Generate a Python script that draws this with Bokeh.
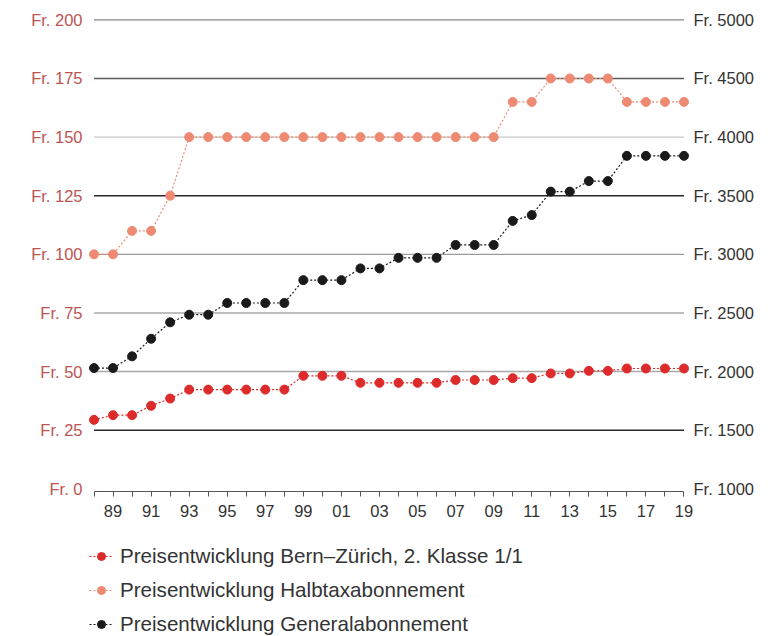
from bokeh.plotting import figure
from bokeh.models import (Range1d, LinearAxis, FixedTicker, Legend, LegendItem,
                          ColumnDataSource)
from bokeh.embed import file_html
from bokeh.resources import INLINE

# --- data -------------------------------------------------------------------
years = [1988, 1989, 1990, 1991, 1992, 1993, 1994, 1995, 1996, 1997, 1998,
         1999, 2000, 2001, 2002, 2003, 2004, 2005, 2006, 2007, 2008, 2009,
         2010, 2011, 2012, 2013, 2014, 2015, 2016, 2017, 2018, 2019]

# Bern–Zürich, 2nd class single ticket (left axis, CHF)
bern_zuerich = [29.4, 31.4, 31.4, 35.4, 38.5, 42.3, 42.3, 42.3, 42.3, 42.3, 42.3,
                48.2, 48.2, 48.2, 45.2, 45.2, 45.2, 45.2, 45.2, 46.4, 46.4, 46.4,
                47.2, 47.2, 49.2, 49.2, 50.3, 50.3, 51.3, 51.3, 51.3, 51.3]

# Half-fare card (left axis, CHF)
halbtax = [100, 100, 110, 110, 125, 150, 150, 150, 150, 150, 150,
           150, 150, 150, 150, 150, 150, 150, 150, 150, 150, 150,
           165, 165, 175, 175, 175, 175, 165, 165, 165, 165]

# General travel pass (right axis, CHF)
generalabo = [2030, 2030, 2130, 2280, 2420, 2485, 2485, 2585, 2585, 2585, 2585,
              2780, 2780, 2780, 2880, 2880, 2970, 2970, 2970, 3080, 3080, 3080,
              3285, 3335, 3535, 3535, 3625, 3625, 3840, 3840, 3840, 3840]

left_ticks = [0, 25, 50, 75, 100, 125, 150, 175, 200]
right_ticks = [1000, 1500, 2000, 2500, 3000, 3500, 4000, 4500, 5000]
year_labels = {y: (f"{y % 100:02d}" if y % 2 == 1 else "") for y in years}

legend_labels = ["Preisentwicklung Bern–Zürich, 2. Klasse 1/1",
                 "Preisentwicklung Halbtaxabonnement",
                 "Preisentwicklung Generalabonnement"]

# --- styles -----------------------------------------------------------------
FONT = "Liberation Sans"
RED = "#dd2a2a"
SALMON = "#ee8a72"
BLACK = "#1a1a1a"
LEFT_LABEL = "#bb5552"
grid_colors = ["#2a2a2a", "#a8a8a8", "#a8a8a8", "#9a9a9a", "#2a2a2a",
               "#c8c8c8", "#5a5a5a", "#858585"]   # for 25 .. 200

# The frame reaches down to the page bottom so the legend can sit inside it;
# the x axis is pinned just below zero.
p = figure(frame_width=609, frame_height=626,
           x_range=Range1d(1987.5, 2019.5), y_range=Range1d(-63, 204),
           output_backend="svg", toolbar_location=None,
           min_border_left=84, min_border_right=81, min_border_top=10,
           min_border_bottom=0, background_fill_color="white",
           border_fill_color="white", outline_line_color=None,
           x_axis_location=None, y_axis_location=None)
p.xgrid.visible = False
p.ygrid.visible = False

p.extra_y_ranges = {"ga": Range1d(1000 + (-63) * 20, 1000 + 204 * 20)}

# horizontal rules at the left-axis ticks (except zero)
grid_vals = left_ticks[1:]
grid_src = ColumnDataSource(dict(x0=[years[0]] * len(grid_vals),
                                 x1=[years[-1]] * len(grid_vals),
                                 y=grid_vals, c=grid_colors))
p.segment(x0="x0", x1="x1", y0="y", y1="y", color="c", line_width=1.4,
          source=grid_src)

# axes
xaxis = LinearAxis(ticker=FixedTicker(ticks=years), bounds=(years[0], years[-1]),
                   major_label_overrides=year_labels, fixed_location=-1)
xaxis.axis_line_color = "#555555"
xaxis.major_tick_line_color = "#555555"
xaxis.major_tick_out = 5
xaxis.major_tick_in = 0
xaxis.minor_tick_line_color = None
xaxis.major_label_standoff = 9
xaxis.major_label_text_font = FONT
xaxis.major_label_text_font_size = "16.5px"
xaxis.major_label_text_color = "#333333"
p.add_layout(xaxis, "below")

laxis = LinearAxis(ticker=FixedTicker(ticks=left_ticks),
                   major_label_overrides={t: f"Fr. {t}" for t in left_ticks})
raxis = LinearAxis(y_range_name="ga", ticker=FixedTicker(ticks=right_ticks),
                   major_label_overrides={t: f"Fr. {t}" for t in right_ticks})
for ax, col, sd in ((laxis, LEFT_LABEL, 2), (raxis, "#333333", 0)):
    ax.axis_line_color = None
    ax.major_tick_line_color = None
    ax.minor_tick_line_color = None
    ax.major_tick_out = 0
    ax.major_tick_in = 0
    ax.major_label_standoff = sd
    ax.major_label_text_font = FONT
    ax.major_label_text_font_size = "16.5px"
    ax.major_label_text_color = col
p.add_layout(laxis, "left")
p.add_layout(raxis, "right")

# series
series = [(halbtax, SALMON, "default"), (generalabo, BLACK, "ga"),
          (bern_zuerich, RED, "default")]
rend = {}
for vals, col, rng in series:
    ln = p.line(years, vals, line_color=col, line_dash="2 2", line_width=1.2,
                y_range_name=rng)
    sc = p.scatter(years, vals, size=9, fill_color=col, line_color=col,
                   y_range_name=rng)
    rend[col] = [ln, sc]

legend = Legend(items=[LegendItem(label=legend_labels[0], renderers=rend[RED]),
                       LegendItem(label=legend_labels[1], renderers=rend[SALMON]),
                       LegendItem(label=legend_labels[2], renderers=rend[BLACK])],
                location=(5, 0), orientation="vertical")
legend.margin = 0
legend.padding = 5
legend.spacing = 10
legend.glyph_width = 24
legend.glyph_height = 20
legend.label_height = 20
legend.label_standoff = 7
legend.label_text_font = FONT
legend.label_text_font_size = "20.6px"
legend.label_text_color = "#333333"
legend.background_fill_alpha = 0
legend.border_line_color = None
p.add_layout(legend, "center")

open("out.html", "w").write(file_html(p, INLINE))
